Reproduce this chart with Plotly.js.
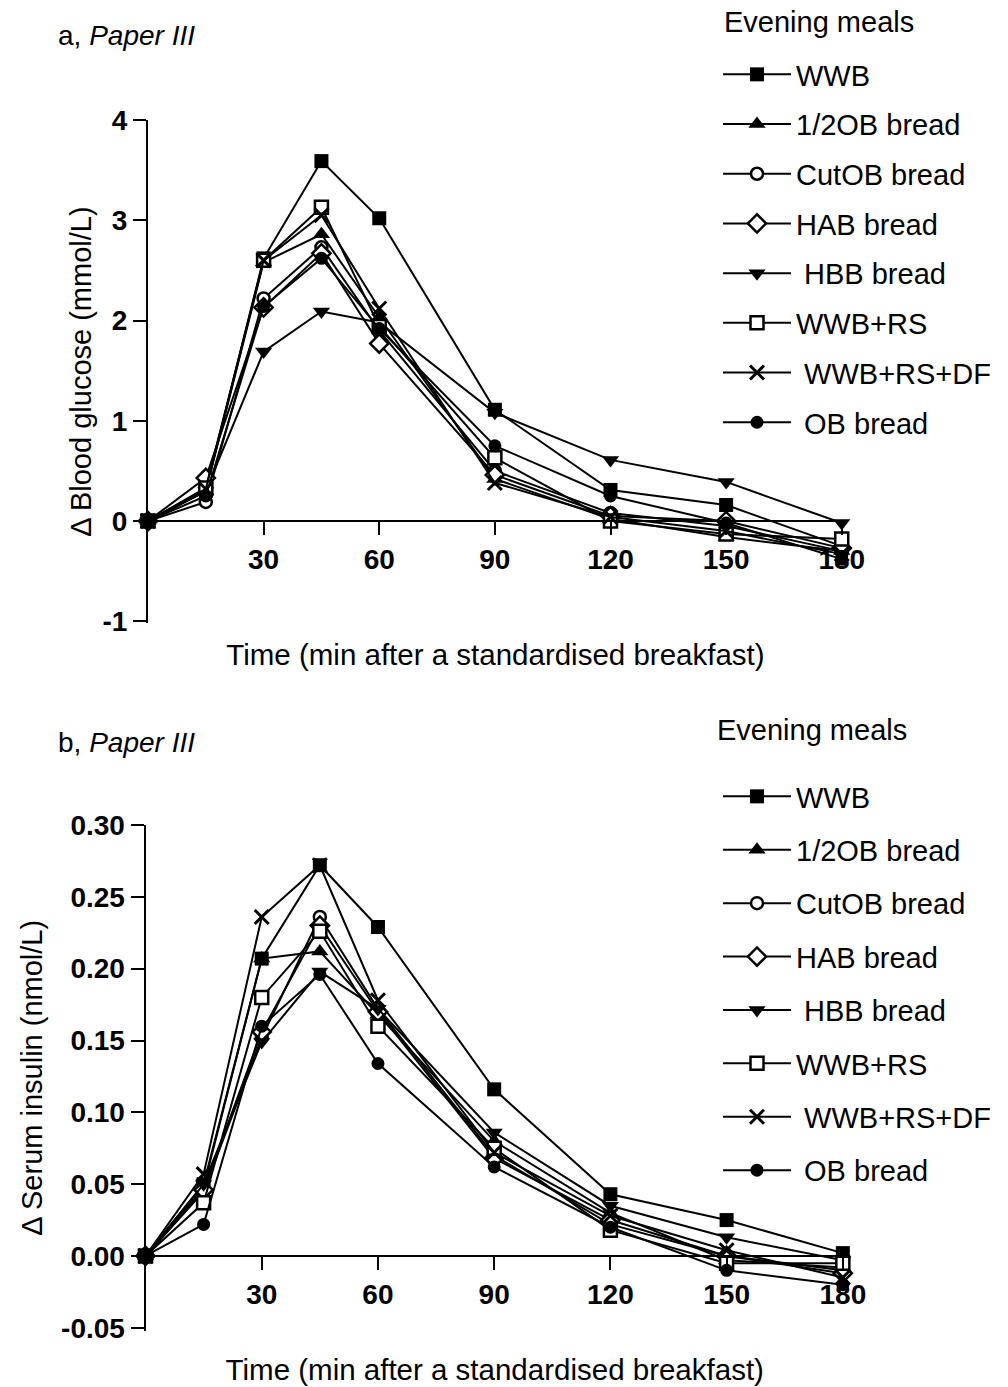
<!DOCTYPE html>
<html><head><meta charset="utf-8">
<script src="https://cdn.plot.ly/plotly-3.0.1.min.js"></script>
<style>html,body{margin:0;padding:0;background:#fff}</style>
</head><body><div id="chart" style="width:1008px;height:1387px"></div>
<script>
const times = [0, 15, 30, 45, 60, 90, 120, 150, 180];
const xTickVals = [30, 60, 90, 120, 150, 180];
const xTickText = ["30", "60", "90", "120", "150", "180"];
const seriesNames = ["WWB", "1/2OB bread", "CutOB bread", "HAB bread", "\u00a0HBB bread", "WWB+RS", "\u00a0WWB+RS+DF", "\u00a0OB bread"];
const legendTitle = "Evening meals";

// Panel a: change in blood glucose (mmol/L)
const glucWWB    = [0, 0.30, 2.62, 3.59, 3.02, 1.11, 0.31, 0.16, -0.25];
const glucHalfOB = [0, 0.30, 2.58, 2.86, 2.03, 0.42, 0.02, -0.16, -0.30];
const glucCutOB  = [0, 0.19, 2.22, 2.73, 1.90, 0.50, 0.08, -0.05, -0.30];
const glucHAB    = [0, 0.43, 2.13, 2.67, 1.77, 0.46, 0.05, 0.00, -0.27];
const glucHBB    = [0, 0.30, 1.69, 2.09, 1.98, 1.08, 0.61, 0.39, -0.02];
const glucWWBRS  = [0, 0.33, 2.60, 3.13, 1.94, 0.63, 0.00, -0.13, -0.18];
const glucWWBRSDF= [0, 0.32, 2.60, 3.05, 2.12, 0.38, 0.04, -0.10, -0.33];
const glucOB     = [0, 0.25, 2.14, 2.62, 1.92, 0.75, 0.25, -0.02, -0.38];

// Panel b: change in serum insulin (nmol/L)
const insWWB    = [0, 0.050, 0.207, 0.272, 0.229, 0.116, 0.043, 0.025, 0.002];
const insHalfOB = [0, 0.048, 0.207, 0.212, 0.168, 0.080, 0.030, -0.003, -0.008];
const insCutOB  = [0, 0.045, 0.152, 0.236, 0.172, 0.070, 0.022, 0.000, -0.010];
const insHAB    = [0, 0.046, 0.156, 0.230, 0.170, 0.068, 0.025, 0.000, -0.012];
const insHBB    = [0, 0.050, 0.149, 0.198, 0.172, 0.086, 0.035, 0.013, -0.003];
const insWWBRS  = [0, 0.037, 0.180, 0.226, 0.160, 0.075, 0.018, -0.005, -0.005];
const insWWBRSDF= [0, 0.057, 0.236, 0.272, 0.178, 0.072, 0.028, 0.004, -0.015];
const insOB     = [0, 0.022, 0.160, 0.196, 0.134, 0.062, 0.020, -0.010, -0.020];

const yTickValsA = [-1, 0, 1, 2, 3, 4];
const yTickTextA = ["-1", "0", "1", "2", "3", "4"];
const yTickValsB = [-0.05, 0, 0.05, 0.10, 0.15, 0.20, 0.25, 0.30];
const yTickTextB = ["-0.05", "0.00", "0.05", "0.10", "0.15", "0.20", "0.25", "0.30"];

const glucose = [glucWWB, glucHalfOB, glucCutOB, glucHAB, glucHBB, glucWWBRS, glucWWBRSDF, glucOB];
const insulin = [insWWB, insHalfOB, insCutOB, insHAB, insHBB, insWWBRS, insWWBRSDF, insOB];

const markerStyles = [
  {symbol: 'square', size: 14, color: '#000', line: {width: 0}},
  {symbol: 'triangle-up', size: 15, color: '#000', line: {width: 0}},
  {symbol: 'circle', size: 12, color: '#fff', line: {width: 2.5, color: '#000'}},
  {symbol: 'diamond', size: 14, color: '#fff', line: {width: 2.5, color: '#000'}},
  {symbol: 'triangle-down', size: 15, color: '#000', line: {width: 0}},
  {symbol: 'square', size: 13, color: '#fff', line: {width: 2.5, color: '#000'}},
  {symbol: 'x-thin-open', size: 14, color: '#000', line: {width: 3, color: '#000'}},
  {symbol: 'circle', size: 13, color: '#000', line: {width: 0}}
];

const traces = [];
[[glucose, 'x', 'y', 'legend', 'a'], [insulin, 'x2', 'y2', 'legend2', 'b']].forEach(([set, xa, ya, lg, pre]) => {
  set.forEach((vals, i) => {
    traces.push({
      type: 'scatter', mode: 'lines+markers', x: times, y: vals,
      xaxis: xa, yaxis: ya, legend: lg, legendgroup: pre + i,
      name: seriesNames[i], cliponaxis: false,
      line: {color: '#000', width: 2},
      marker: markerStyles[i]
    });
  });
});

const FONT = 'Liberation Sans, Arial, sans-serif';
const H = 1387, W = 1008;
const py = p => 1 - p / H;
const px = p => p / W;

function xAxis(dom, pos, standoff) {
  return {
    domain: dom, range: [0, 180.3], anchor: 'free', position: pos,
    showline: true, linewidth: 2, linecolor: '#000',
    ticks: 'outside', ticklen: 13, tickwidth: 2, tickcolor: '#000',
    tickmode: 'array', tickvals: xTickVals, ticktext: xTickText,
    tickfont: {family: FONT, size: 28, weight: 'bold', color: '#000'},
    showgrid: false, zeroline: false, fixedrange: true,
    title: {text: 'Time (min after a standardised breakfast)', font: {family: FONT, size: 29.5, color: '#000'}, standoff: standoff}
  };
}
function yAxis(dom, rng, anchor, tv, tt, title, standoff) {
  return {
    domain: dom, range: rng, anchor: anchor,
    showline: true, linewidth: 2, linecolor: '#000',
    ticks: 'outside', ticklen: 13, tickwidth: 2, tickcolor: '#000',
    tickmode: 'array', tickvals: tv, ticktext: tt,
    tickfont: {family: FONT, size: 28, weight: 'bold', color: '#000'},
    showgrid: false, zeroline: false, fixedrange: true,
    title: {text: title, font: {family: FONT, size: 29, color: '#000'}, standoff: standoff}
  };
}
function legendCfg(yTop, gap) {
  return {
    x: px(718), xanchor: 'left', y: py(yTop), yanchor: 'top',
    font: {family: FONT, size: 29, color: '#000'},
    itemwidth: 68, tracegroupgap: gap, traceorder: 'grouped',
    bgcolor: 'rgba(0,0,0,0)', borderwidth: 0
  };
}

const layout = {
  width: W, height: H, margin: {l: 0, r: 0, t: 0, b: 0},
  paper_bgcolor: '#fff', plot_bgcolor: 'rgba(0,0,0,0)',
  font: {family: FONT, size: 28, color: '#000'},
  showlegend: true,
  xaxis: xAxis([px(148), px(842.9)], py(521), 70),
  yaxis: yAxis([py(623.3), py(120)], [-1.02, 4], 'x', yTickValsA, yTickTextA, '\u0394 Blood glucose (mmol/L)', 2),
  xaxis2: xAxis([px(145.5), px(844)], py(1256), 50),
  yaxis2: yAxis([py(1330.7), py(825)], [-0.052, 0.30], 'x2', yTickValsB, yTickTextB, '\u0394 Serum insulin (nmol/L)', 10),
  legend: legendCfg(49, 9),
  legend2: legendCfg(771, 12.7),
  annotations: [
    {text: 'a, <i>Paper III</i>', x: px(56), xanchor: 'left', y: py(35), yanchor: 'middle', xref: 'paper', yref: 'paper', showarrow: false, font: {family: FONT, size: 28, color: '#000'}},
    {text: 'b, <i>Paper III</i>', x: px(56), xanchor: 'left', y: py(742), yanchor: 'middle', xref: 'paper', yref: 'paper', showarrow: false, font: {family: FONT, size: 28, color: '#000'}},
    {text: legendTitle, x: px(722), xanchor: 'left', y: py(22), yanchor: 'middle', xref: 'paper', yref: 'paper', showarrow: false, font: {family: FONT, size: 29, color: '#000'}},
    {text: legendTitle, x: px(715), xanchor: 'left', y: py(730), yanchor: 'middle', xref: 'paper', yref: 'paper', showarrow: false, font: {family: FONT, size: 29, color: '#000'}}
  ]
};

Plotly.newPlot('chart', traces, layout, {staticPlot: true, displayModeBar: false});
</script>
</body></html>
